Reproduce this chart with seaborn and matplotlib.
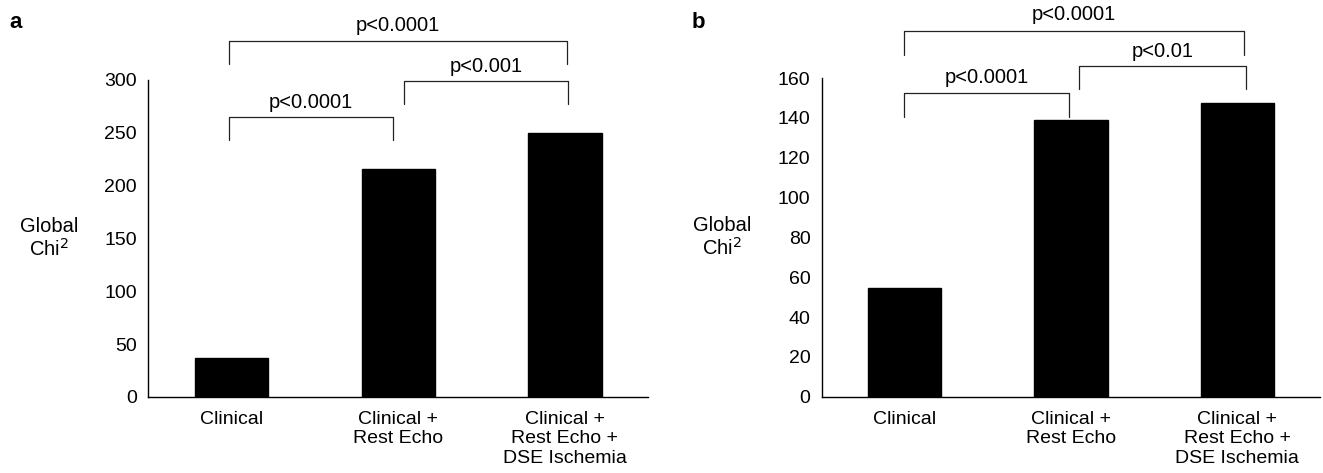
import matplotlib
matplotlib.use("Agg")
import matplotlib.pyplot as plt
import seaborn as sns
import pandas as pd

categories = ["Clinical", "Clinical +\nRest Echo", "Clinical +\nRest Echo +\nDSE Ischemia"]
values_a = [36.5, 216, 250]
values_b = [54.7, 138.8, 147.6]
yticks_a = [0, 50, 100, 150, 200, 250, 300]
yticks_b = [0, 20, 40, 60, 80, 100, 120, 140, 160]

# brackets: (x_left, x_right, leg_bottom_left, leg_bottom_right, top, label, text_y)
brackets_a = [
    (-0.015, 0.97, 243, 243, 265, "p<0.0001", 279),
    (1.035, 2.02, 277, 277, 299, "p<0.001", 313),
    (-0.015, 2.01, 315, 315, 337, "p<0.0001", 352),
]
brackets_b = [
    (-0.003, 0.987, 140.4, 140.4, 152.5, "p<0.0001", 160.5),
    (1.048, 2.05, 154.7, 154.7, 165.8, "p<0.01", 173.5),
    (-0.003, 2.04, 171.8, 171.8, 183.7, "p<0.0001", 192),
]

sns.set_theme(style="white")
plt.rcParams["font.family"] = ["Liberation Sans", "DejaVu Sans"]
plt.rcParams["text.color"] = "black"
plt.rcParams["xtick.color"] = "black"
plt.rcParams["ytick.color"] = "black"
plt.rcParams["axes.labelcolor"] = "black"

fig = plt.figure(figsize=(13.23, 4.73), dpi=100)
ax_a = fig.add_axes([0.112, 0.161, 0.378, 0.670])
ax_b = fig.add_axes([0.621, 0.161, 0.377, 0.674])

def draw(ax, vals, yticks, brackets, letter, letter_x):
    df = pd.DataFrame({"cat": categories, "val": vals})
    sns.barplot(data=df, x="cat", y="val", color="black", width=0.44,
                saturation=1, ax=ax)
    for p in ax.patches:
        p.set_edgecolor("black")
    ax.set_xlim(-0.5, 2.5)
    ax.set_ylim(0, yticks[-1])
    ax.set_yticks(yticks)
    ax.set_yticklabels([str(t) for t in yticks], fontsize=14)
    ax.set_xticks(range(len(categories)))
    ax.set_xticklabels(categories, fontsize=14, linespacing=1.2)
    ax.set_xticks([-0.5, 0.5, 1.5, 2.5], minor=True)
    ax.tick_params(axis="x", which="major", length=0, pad=10)
    ax.tick_params(axis="x", which="minor", length=5, width=1, color="black", direction="out")
    ax.tick_params(axis="y", which="major", length=5, width=1, color="black", direction="out", pad=3)
    ax.set_xlabel("")
    ax.set_ylabel("Global\nChi$^2$", rotation=0, fontsize=14.5, labelpad=40,
                  va="center", ha="center", linespacing=1.1)
    for s in ["top", "right"]:
        ax.spines[s].set_visible(False)
    for s in ["left", "bottom"]:
        ax.spines[s].set_color("black")
        ax.spines[s].set_linewidth(1)
    for xl, xr, bl, br, top, lab, ty in brackets:
        ax.plot([xl, xl, xr, xr], [bl, top, top, br], color="#222222", lw=0.9,
                clip_on=False)
        ax.text((xl + xr) / 2, ty, lab, ha="center", va="center", fontsize=14.5,
                clip_on=False)
    fig.text(letter_x, 0.953, letter, fontsize=16, fontweight="bold", va="center")

draw(ax_a, values_a, yticks_a, brackets_a, "a", 0.007)
draw(ax_b, values_b, yticks_b, brackets_b, "b", 0.523)

fig.savefig("out.png", dpi=100, facecolor="white")
